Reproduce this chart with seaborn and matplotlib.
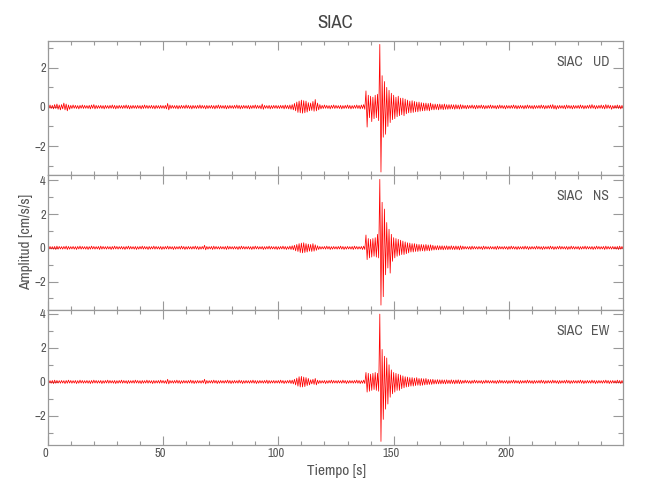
import numpy as np
import pandas as pd
import matplotlib
matplotlib.use("Agg")
import matplotlib.pyplot as plt
import matplotlib.transforms as mtransforms
from matplotlib import font_manager as fm
from matplotlib.ticker import MultipleLocator
import seaborn as sns

# 1 s bins, max (up) and min (low) amplitude [cm/s/s]
time_s = np.arange(0, 250)

ud_up = [0.08, 0.1, 0.08, 0.12, 0.15, 0.1, 0.12, 0.2, 0.15, 0.1, 0.08, 0.1, 0.08, 0.07, 0.08, 0.1, 0.08, 0.07, 0.08, 0.1, 0.12, 0.08, 0.07, 0.08, 0.07,
         0.08, 0.07, 0.08, 0.1, 0.08, 0.07, 0.08, 0.07, 0.08, 0.1, 0.08, 0.07, 0.08, 0.07, 0.08, 0.07, 0.08, 0.1, 0.08, 0.07, 0.08, 0.07, 0.08, 0.07, 0.08,
         0.07, 0.08, 0.18, 0.1, 0.08, 0.07, 0.08, 0.07, 0.08, 0.07, 0.1, 0.08, 0.07, 0.08, 0.07, 0.08, 0.1, 0.08, 0.07, 0.08, 0.07, 0.08, 0.07, 0.08, 0.1,
         0.08, 0.07, 0.08, 0.07, 0.08, 0.07, 0.08, 0.1, 0.08, 0.07, 0.08, 0.07, 0.08, 0.07, 0.08, 0.1, 0.08, 0.07, 0.15, 0.08, 0.07, 0.08, 0.07, 0.08, 0.08,
         0.07, 0.08, 0.08, 0.1, 0.08, 0.1, 0.12, 0.18, 0.25, 0.3, 0.35, 0.32, 0.3, 0.22, 0.2, 0.28, 0.38, 0.2, 0.12, 0.08, 0.1, 0.08, 0.07, 0.08, 0.1,
         0.08, 0.07, 0.08, 0.07, 0.08, 0.1, 0.08, 0.07, 0.08, 0.1, 0.08, 0.1, 0.12, 0.82, 0.6, 0.55, 0.5, 0.6, 0.65, 3.2, 1.6, 1.3, 1.0, 0.85, 0.7,
         0.6, 0.5, 0.55, 0.45, 0.45, 0.4, 0.35, 0.3, 0.32, 0.28, 0.25, 0.25, 0.22, 0.2, 0.2, 0.18, 0.2, 0.15, 0.15, 0.14, 0.15, 0.13, 0.15, 0.12, 0.12,
         0.12, 0.11, 0.12, 0.1, 0.12, 0.1, 0.08, 0.09, 0.08, 0.1, 0.08, 0.09, 0.08, 0.1, 0.08, 0.07, 0.08, 0.1, 0.08, 0.07, 0.08, 0.1, 0.08, 0.07, 0.08,
         0.07, 0.08, 0.1, 0.08, 0.07, 0.08, 0.07, 0.08, 0.1, 0.08, 0.07, 0.08, 0.07, 0.08, 0.1, 0.08, 0.07, 0.08, 0.1, 0.12, 0.08, 0.07, 0.08, 0.07, 0.08,
         0.1, 0.08, 0.07, 0.08, 0.07, 0.08, 0.1, 0.08, 0.07, 0.08, 0.1, 0.12, 0.08, 0.07, 0.08, 0.1, 0.08, 0.12, 0.1, 0.08, 0.07, 0.08, 0.1, 0.08, 0.08]
ud_low = [-0.07, -0.08, -0.1, -0.08, -0.12, -0.15, -0.1, -0.15, -0.2, -0.12, -0.08, -0.07, -0.08, -0.1, -0.07, -0.08, -0.07, -0.08, -0.1, -0.07, -0.1, -0.08, -0.07, -0.08, -0.1,
          -0.07, -0.08, -0.07, -0.08, -0.1, -0.08, -0.07, -0.08, -0.07, -0.08, -0.1, -0.08, -0.07, -0.08, -0.07, -0.1, -0.08, -0.07, -0.08, -0.07, -0.08, -0.1, -0.07, -0.08, -0.07,
          -0.08, -0.1, -0.15, -0.08, -0.07, -0.08, -0.1, -0.08, -0.07, -0.08, -0.07, -0.08, -0.1, -0.07, -0.08, -0.07, -0.08, -0.07, -0.1, -0.08, -0.07, -0.08, -0.1, -0.07, -0.08,
          -0.07, -0.08, -0.1, -0.08, -0.07, -0.08, -0.07, -0.08, -0.1, -0.08, -0.07, -0.08, -0.1, -0.08, -0.07, -0.08, -0.07, -0.1, -0.12, -0.07, -0.08, -0.1, -0.08, -0.07, -0.08,
          -0.08, -0.07, -0.1, -0.08, -0.1, -0.12, -0.15, -0.2, -0.28, -0.3, -0.32, -0.3, -0.26, -0.2, -0.18, -0.22, -0.2, -0.15, -0.1, -0.08, -0.07, -0.08, -0.1, -0.07, -0.08,
          -0.07, -0.08, -0.1, -0.08, -0.07, -0.08, -0.1, -0.08, -0.07, -0.08, -0.1, -0.08, -0.12, -1.03, -0.55, -0.75, -0.6, -0.55, -0.7, -3.33, -1.55, -1.4, -1.0, -0.8, -0.65,
          -0.6, -0.5, -0.45, -0.4, -0.45, -0.35, -0.3, -0.3, -0.28, -0.25, -0.25, -0.22, -0.2, -0.2, -0.18, -0.2, -0.15, -0.15, -0.13, -0.15, -0.12, -0.14, -0.12, -0.12, -0.11,
          -0.1, -0.12, -0.1, -0.11, -0.1, -0.08, -0.1, -0.08, -0.07, -0.08, -0.1, -0.08, -0.07, -0.08, -0.1, -0.08, -0.07, -0.08, -0.07, -0.1, -0.08, -0.07, -0.08, -0.1, -0.07,
          -0.08, -0.07, -0.08, -0.1, -0.08, -0.07, -0.1, -0.08, -0.07, -0.08, -0.1, -0.08, -0.07, -0.08, -0.07, -0.1, -0.08, -0.07, -0.08, -0.1, -0.12, -0.08, -0.07, -0.08, -0.1,
          -0.07, -0.08, -0.1, -0.08, -0.07, -0.08, -0.07, -0.1, -0.08, -0.07, -0.08, -0.07, -0.1, -0.08, -0.07, -0.08, -0.1, -0.08, -0.07, -0.12, -0.08, -0.07, -0.08, -0.1, -0.08]

ns_up = [0.07, 0.08, 0.07, 0.08, 0.1, 0.08, 0.07, 0.08, 0.1, 0.08, 0.07, 0.08, 0.07, 0.08, 0.1, 0.08, 0.07, 0.08, 0.07, 0.1, 0.08, 0.07, 0.08, 0.1, 0.08,
         0.07, 0.08, 0.07, 0.08, 0.1, 0.08, 0.07, 0.08, 0.07, 0.08, 0.1, 0.08, 0.07, 0.08, 0.07, 0.08, 0.1, 0.08, 0.07, 0.08, 0.07, 0.1, 0.08, 0.07, 0.08,
         0.07, 0.08, 0.1, 0.08, 0.07, 0.08, 0.07, 0.08, 0.1, 0.08, 0.07, 0.08, 0.07, 0.08, 0.1, 0.08, 0.07, 0.08, 0.15, 0.08, 0.07, 0.08, 0.1, 0.08, 0.07,
         0.08, 0.07, 0.08, 0.1, 0.08, 0.07, 0.08, 0.07, 0.08, 0.1, 0.08, 0.07, 0.08, 0.07, 0.08, 0.1, 0.08, 0.07, 0.08, 0.07, 0.08, 0.1, 0.08, 0.07, 0.08,
         0.07, 0.08, 0.1, 0.08, 0.07, 0.1, 0.12, 0.15, 0.2, 0.25, 0.28, 0.3, 0.25, 0.22, 0.2, 0.25, 0.18, 0.12, 0.08, 0.07, 0.08, 0.1, 0.08, 0.07, 0.08,
         0.07, 0.08, 0.1, 0.08, 0.07, 0.08, 0.07, 0.08, 0.1, 0.08, 0.07, 0.08, 0.1, 0.76, 0.55, 0.5, 0.55, 0.6, 0.8, 4.06, 2.7, 2.3, 1.5, 1.1, 0.8,
         0.6, 0.55, 0.5, 0.45, 0.4, 0.35, 0.3, 0.28, 0.25, 0.25, 0.22, 0.2, 0.2, 0.18, 0.2, 0.17, 0.18, 0.15, 0.12, 0.13, 0.12, 0.12, 0.11, 0.12, 0.1,
         0.12, 0.1, 0.11, 0.1, 0.12, 0.1, 0.08, 0.07, 0.08, 0.1, 0.08, 0.07, 0.08, 0.07, 0.1, 0.08, 0.07, 0.08, 0.07, 0.08, 0.1, 0.08, 0.07, 0.08, 0.07,
         0.08, 0.1, 0.08, 0.07, 0.08, 0.07, 0.08, 0.1, 0.08, 0.07, 0.08, 0.07, 0.1, 0.08, 0.07, 0.08, 0.07, 0.08, 0.1, 0.08, 0.07, 0.08, 0.1, 0.08, 0.07,
         0.08, 0.07, 0.1, 0.08, 0.07, 0.08, 0.07, 0.08, 0.1, 0.08, 0.07, 0.08, 0.07, 0.1, 0.08, 0.07, 0.08, 0.1, 0.08, 0.07, 0.08, 0.07, 0.08, 0.1, 0.08]
ns_low = [-0.08, -0.07, -0.08, -0.1, -0.08, -0.07, -0.08, -0.07, -0.1, -0.08, -0.07, -0.08, -0.1, -0.07, -0.08, -0.07, -0.08, -0.1, -0.08, -0.07, -0.08, -0.07, -0.1, -0.08, -0.07,
          -0.08, -0.07, -0.1, -0.08, -0.07, -0.08, -0.07, -0.08, -0.1, -0.07, -0.08, -0.07, -0.08, -0.1, -0.08, -0.07, -0.08, -0.07, -0.1, -0.08, -0.07, -0.08, -0.07, -0.08, -0.1,
          -0.08, -0.07, -0.08, -0.07, -0.1, -0.08, -0.07, -0.08, -0.07, -0.1, -0.08, -0.07, -0.08, -0.07, -0.08, -0.1, -0.08, -0.07, -0.12, -0.08, -0.07, -0.1, -0.08, -0.07, -0.08,
          -0.07, -0.08, -0.1, -0.08, -0.07, -0.08, -0.07, -0.1, -0.08, -0.07, -0.08, -0.07, -0.08, -0.1, -0.08, -0.07, -0.08, -0.07, -0.1, -0.08, -0.07, -0.08, -0.07, -0.08, -0.1,
          -0.08, -0.07, -0.08, -0.1, -0.08, -0.1, -0.12, -0.18, -0.22, -0.28, -0.3, -0.28, -0.25, -0.2, -0.22, -0.2, -0.15, -0.1, -0.08, -0.07, -0.08, -0.07, -0.1, -0.08, -0.07,
          -0.08, -0.07, -0.08, -0.1, -0.08, -0.07, -0.08, -0.1, -0.07, -0.08, -0.07, -0.1, -0.1, -0.7, -0.6, -0.55, -0.5, -0.55, -0.6, -3.4, -2.9, -1.6, -1.2, -1.5, -0.8,
          -0.6, -0.5, -0.45, -0.4, -0.4, -0.35, -0.3, -0.25, -0.25, -0.22, -0.22, -0.2, -0.18, -0.2, -0.17, -0.18, -0.15, -0.13, -0.12, -0.12, -0.11, -0.12, -0.1, -0.11, -0.1,
          -0.1, -0.11, -0.1, -0.12, -0.1, -0.08, -0.07, -0.08, -0.1, -0.08, -0.07, -0.08, -0.07, -0.1, -0.08, -0.07, -0.08, -0.07, -0.08, -0.1, -0.08, -0.07, -0.08, -0.07, -0.1,
          -0.08, -0.07, -0.08, -0.1, -0.08, -0.07, -0.08, -0.07, -0.1, -0.08, -0.07, -0.08, -0.07, -0.08, -0.1, -0.08, -0.07, -0.08, -0.07, -0.1, -0.08, -0.07, -0.08, -0.07, -0.08,
          -0.1, -0.08, -0.07, -0.08, -0.07, -0.1, -0.08, -0.07, -0.08, -0.07, -0.08, -0.1, -0.08, -0.07, -0.08, -0.07, -0.1, -0.08, -0.07, -0.08, -0.07, -0.08, -0.1, -0.08, -0.07]

ew_up = [0.08, 0.07, 0.08, 0.1, 0.08, 0.07, 0.08, 0.07, 0.08, 0.1, 0.08, 0.07, 0.08, 0.07, 0.1, 0.08, 0.07, 0.08, 0.07, 0.08, 0.1, 0.08, 0.07, 0.08, 0.07,
         0.08, 0.1, 0.08, 0.07, 0.08, 0.07, 0.08, 0.1, 0.08, 0.07, 0.08, 0.07, 0.08, 0.1, 0.08, 0.07, 0.08, 0.07, 0.1, 0.08, 0.07, 0.08, 0.07, 0.08, 0.1,
         0.08, 0.07, 0.15, 0.08, 0.07, 0.08, 0.1, 0.08, 0.07, 0.08, 0.07, 0.08, 0.1, 0.08, 0.07, 0.08, 0.07, 0.08, 0.15, 0.08, 0.07, 0.08, 0.1, 0.08, 0.07,
         0.08, 0.07, 0.08, 0.1, 0.08, 0.07, 0.08, 0.07, 0.1, 0.08, 0.07, 0.08, 0.07, 0.08, 0.1, 0.08, 0.07, 0.08, 0.07, 0.08, 0.1, 0.08, 0.07, 0.08, 0.07,
         0.08, 0.1, 0.08, 0.07, 0.08, 0.1, 0.1, 0.15, 0.22, 0.3, 0.32, 0.28, 0.25, 0.2, 0.12, 0.15, 0.2, 0.1, 0.08, 0.07, 0.08, 0.07, 0.08, 0.1, 0.08,
         0.07, 0.08, 0.07, 0.1, 0.08, 0.07, 0.08, 0.07, 0.08, 0.1, 0.08, 0.07, 0.1, 0.55, 0.5, 0.45, 0.5, 0.55, 0.5, 3.97, 1.9, 1.5, 1.4, 1.0, 0.7,
         0.55, 0.5, 0.45, 0.4, 0.35, 0.3, 0.28, 0.25, 0.25, 0.22, 0.25, 0.2, 0.2, 0.18, 0.2, 0.15, 0.14, 0.15, 0.12, 0.13, 0.12, 0.12, 0.11, 0.12, 0.1,
         0.12, 0.1, 0.11, 0.12, 0.1, 0.08, 0.1, 0.08, 0.07, 0.08, 0.1, 0.08, 0.07, 0.08, 0.07, 0.1, 0.08, 0.07, 0.08, 0.07, 0.08, 0.1, 0.08, 0.07, 0.08,
         0.07, 0.08, 0.1, 0.08, 0.07, 0.08, 0.07, 0.08, 0.1, 0.08, 0.07, 0.08, 0.07, 0.08, 0.1, 0.08, 0.07, 0.08, 0.07, 0.1, 0.08, 0.07, 0.08, 0.07, 0.08,
         0.1, 0.08, 0.07, 0.08, 0.07, 0.08, 0.1, 0.08, 0.07, 0.08, 0.07, 0.1, 0.08, 0.07, 0.08, 0.07, 0.08, 0.1, 0.08, 0.07, 0.08, 0.07, 0.1, 0.08, 0.08]
ew_low = [-0.07, -0.08, -0.1, -0.08, -0.07, -0.08, -0.07, -0.1, -0.08, -0.07, -0.08, -0.07, -0.1, -0.08, -0.07, -0.08, -0.07, -0.08, -0.1, -0.08, -0.07, -0.08, -0.07, -0.1, -0.08,
          -0.07, -0.08, -0.07, -0.08, -0.1, -0.08, -0.07, -0.08, -0.07, -0.1, -0.08, -0.07, -0.08, -0.07, -0.08, -0.1, -0.08, -0.07, -0.08, -0.07, -0.1, -0.08, -0.07, -0.08, -0.07,
          -0.08, -0.1, -0.12, -0.07, -0.08, -0.07, -0.08, -0.1, -0.08, -0.07, -0.08, -0.07, -0.08, -0.1, -0.08, -0.07, -0.08, -0.07, -0.12, -0.08, -0.07, -0.08, -0.07, -0.1, -0.08,
          -0.07, -0.08, -0.07, -0.08, -0.1, -0.08, -0.07, -0.08, -0.07, -0.1, -0.08, -0.07, -0.08, -0.07, -0.08, -0.1, -0.08, -0.07, -0.08, -0.07, -0.1, -0.08, -0.07, -0.08, -0.07,
          -0.08, -0.07, -0.1, -0.08, -0.07, -0.1, -0.12, -0.18, -0.25, -0.3, -0.3, -0.28, -0.22, -0.18, -0.12, -0.15, -0.18, -0.1, -0.08, -0.07, -0.1, -0.08, -0.07, -0.08, -0.07,
          -0.08, -0.07, -0.08, -0.07, -0.1, -0.08, -0.07, -0.08, -0.07, -0.08, -0.1, -0.08, -0.1, -0.6, -0.55, -0.5, -0.45, -0.5, -0.55, -3.49, -2.2, -1.6, -1.3, -0.9, -0.7,
          -0.6, -0.5, -0.5, -0.4, -0.35, -0.3, -0.28, -0.25, -0.25, -0.22, -0.2, -0.22, -0.2, -0.18, -0.17, -0.15, -0.15, -0.13, -0.12, -0.12, -0.12, -0.11, -0.12, -0.1, -0.11,
          -0.1, -0.12, -0.1, -0.11, -0.1, -0.08, -0.07, -0.08, -0.1, -0.08, -0.07, -0.08, -0.07, -0.1, -0.08, -0.07, -0.08, -0.07, -0.08, -0.1, -0.08, -0.07, -0.08, -0.07, -0.1,
          -0.08, -0.07, -0.08, -0.07, -0.1, -0.08, -0.07, -0.08, -0.07, -0.08, -0.1, -0.08, -0.07, -0.08, -0.07, -0.1, -0.08, -0.07, -0.08, -0.07, -0.08, -0.1, -0.08, -0.07, -0.08,
          -0.07, -0.1, -0.08, -0.07, -0.08, -0.07, -0.08, -0.1, -0.08, -0.07, -0.08, -0.07, -0.1, -0.08, -0.07, -0.08, -0.07, -0.08, -0.1, -0.08, -0.07, -0.08, -0.07, -0.1, -0.08]

station = "SIAC"
components = ["UD", "NS", "EW"]
traces = {"UD": (ud_up, ud_low), "NS": (ns_up, ns_low), "EW": (ew_up, ew_low)}
y_limits = {"UD": (-3.5, 3.4), "NS": (-3.7, 4.3), "EW": (-3.7, 4.2)}


def pick_narrow_font():
    # the original plot uses a thin condensed font; use one if the box has it
    fonts = fm.fontManager.ttflist
    for f in fonts:
        if ("Narrow" in f.name or "Condensed" in f.name) and f.style == "normal":
            return f.name, "normal"
    for fam in ["DejaVu Sans", "Noto Sans", "Open Sans", "Roboto", "Liberation Sans"]:
        for f in fonts:
            if f.name == fam and f.stretch == "condensed" and f.style == "normal":
                return fam, "condensed"
    return "Liberation Sans", "normal"


sns.set_theme(style="ticks")
font_name, font_stretch = pick_narrow_font()
narrow = font_stretch == "condensed" or font_name != "Liberation Sans"
plt.rcParams['font.family'] = [font_name, 'DejaVu Sans']
plt.rcParams['font.stretch'] = font_stretch

grey = "#999999"
txt = "#555555"
k = 1.0 if narrow else 0.9

fig, axes = plt.subplots(3, 1, figsize=(6.5, 5), dpi=100, sharex=True)
fig.subplots_adjust(left=0.0734, right=0.959, top=0.919, bottom=0.11, hspace=0)

shift = mtransforms.ScaledTranslation(-2 / 72, 0, fig.dpi_scale_trans)

for ax, comp in zip(axes, components):
    up, low = traces[comp]
    # max at the start of each bin, min at its middle
    df = pd.DataFrame({
        "t": np.concatenate([time_s, time_s + 0.5]),
        "amp": np.concatenate([up, low]),
    }).sort_values("t")
    sns.lineplot(data=df, x="t", y="amp", ax=ax, color="red", linewidth=0.55,
                 estimator=None, sort=True)
    ax.set_xlim(0, 249.6)
    ax.set_ylim(*y_limits[comp])
    ax.set_xlabel("")
    ax.set_ylabel("")
    ax.xaxis.set_major_locator(MultipleLocator(50))
    ax.xaxis.set_minor_locator(MultipleLocator(10))
    ax.yaxis.set_major_locator(MultipleLocator(2))
    ax.yaxis.set_minor_locator(MultipleLocator(1))
    for s in ax.spines.values():
        s.set_visible(True)
        s.set_color(grey)
        s.set_linewidth(0.9)
    ax.tick_params(axis="both", which="both", direction="in", top=True, right=True,
                   color=grey, width=0.8, labelcolor=txt, labelsize=9 * k)
    ax.tick_params(axis="y", which="major", length=7.2, pad=1.5)
    ax.tick_params(axis="y", which="minor", length=3.6)
    ax.tick_params(axis="x", which="major", length=6.5, pad=2)
    ax.tick_params(axis="x", which="minor", length=2.9)
    ax.text(0.93, 0.844, station, transform=ax.transAxes, ha="right", va="center",
            fontsize=10 * k, color=txt)
    ax.text(0.975, 0.844, comp, transform=ax.transAxes, ha="right", va="center",
            fontsize=10 * k, color=txt)

for lab in axes[-1].get_xticklabels():
    lab.set_transform(lab.get_transform() + shift)

fig.text(0.516, 0.954, "SIAC", ha="center", va="center", fontsize=13.5 * k, color="#444444")
fig.text(0.518, 0.057, "Tiempo [s]", ha="center", va="center", fontsize=11 * k, color=txt)
fig.text(0.040, 0.516, "Amplitud [cm/s/s]", ha="center", va="center", rotation=90,
         fontsize=11 * k, color=txt)

fig.savefig("out.png", dpi=100, facecolor="white")
